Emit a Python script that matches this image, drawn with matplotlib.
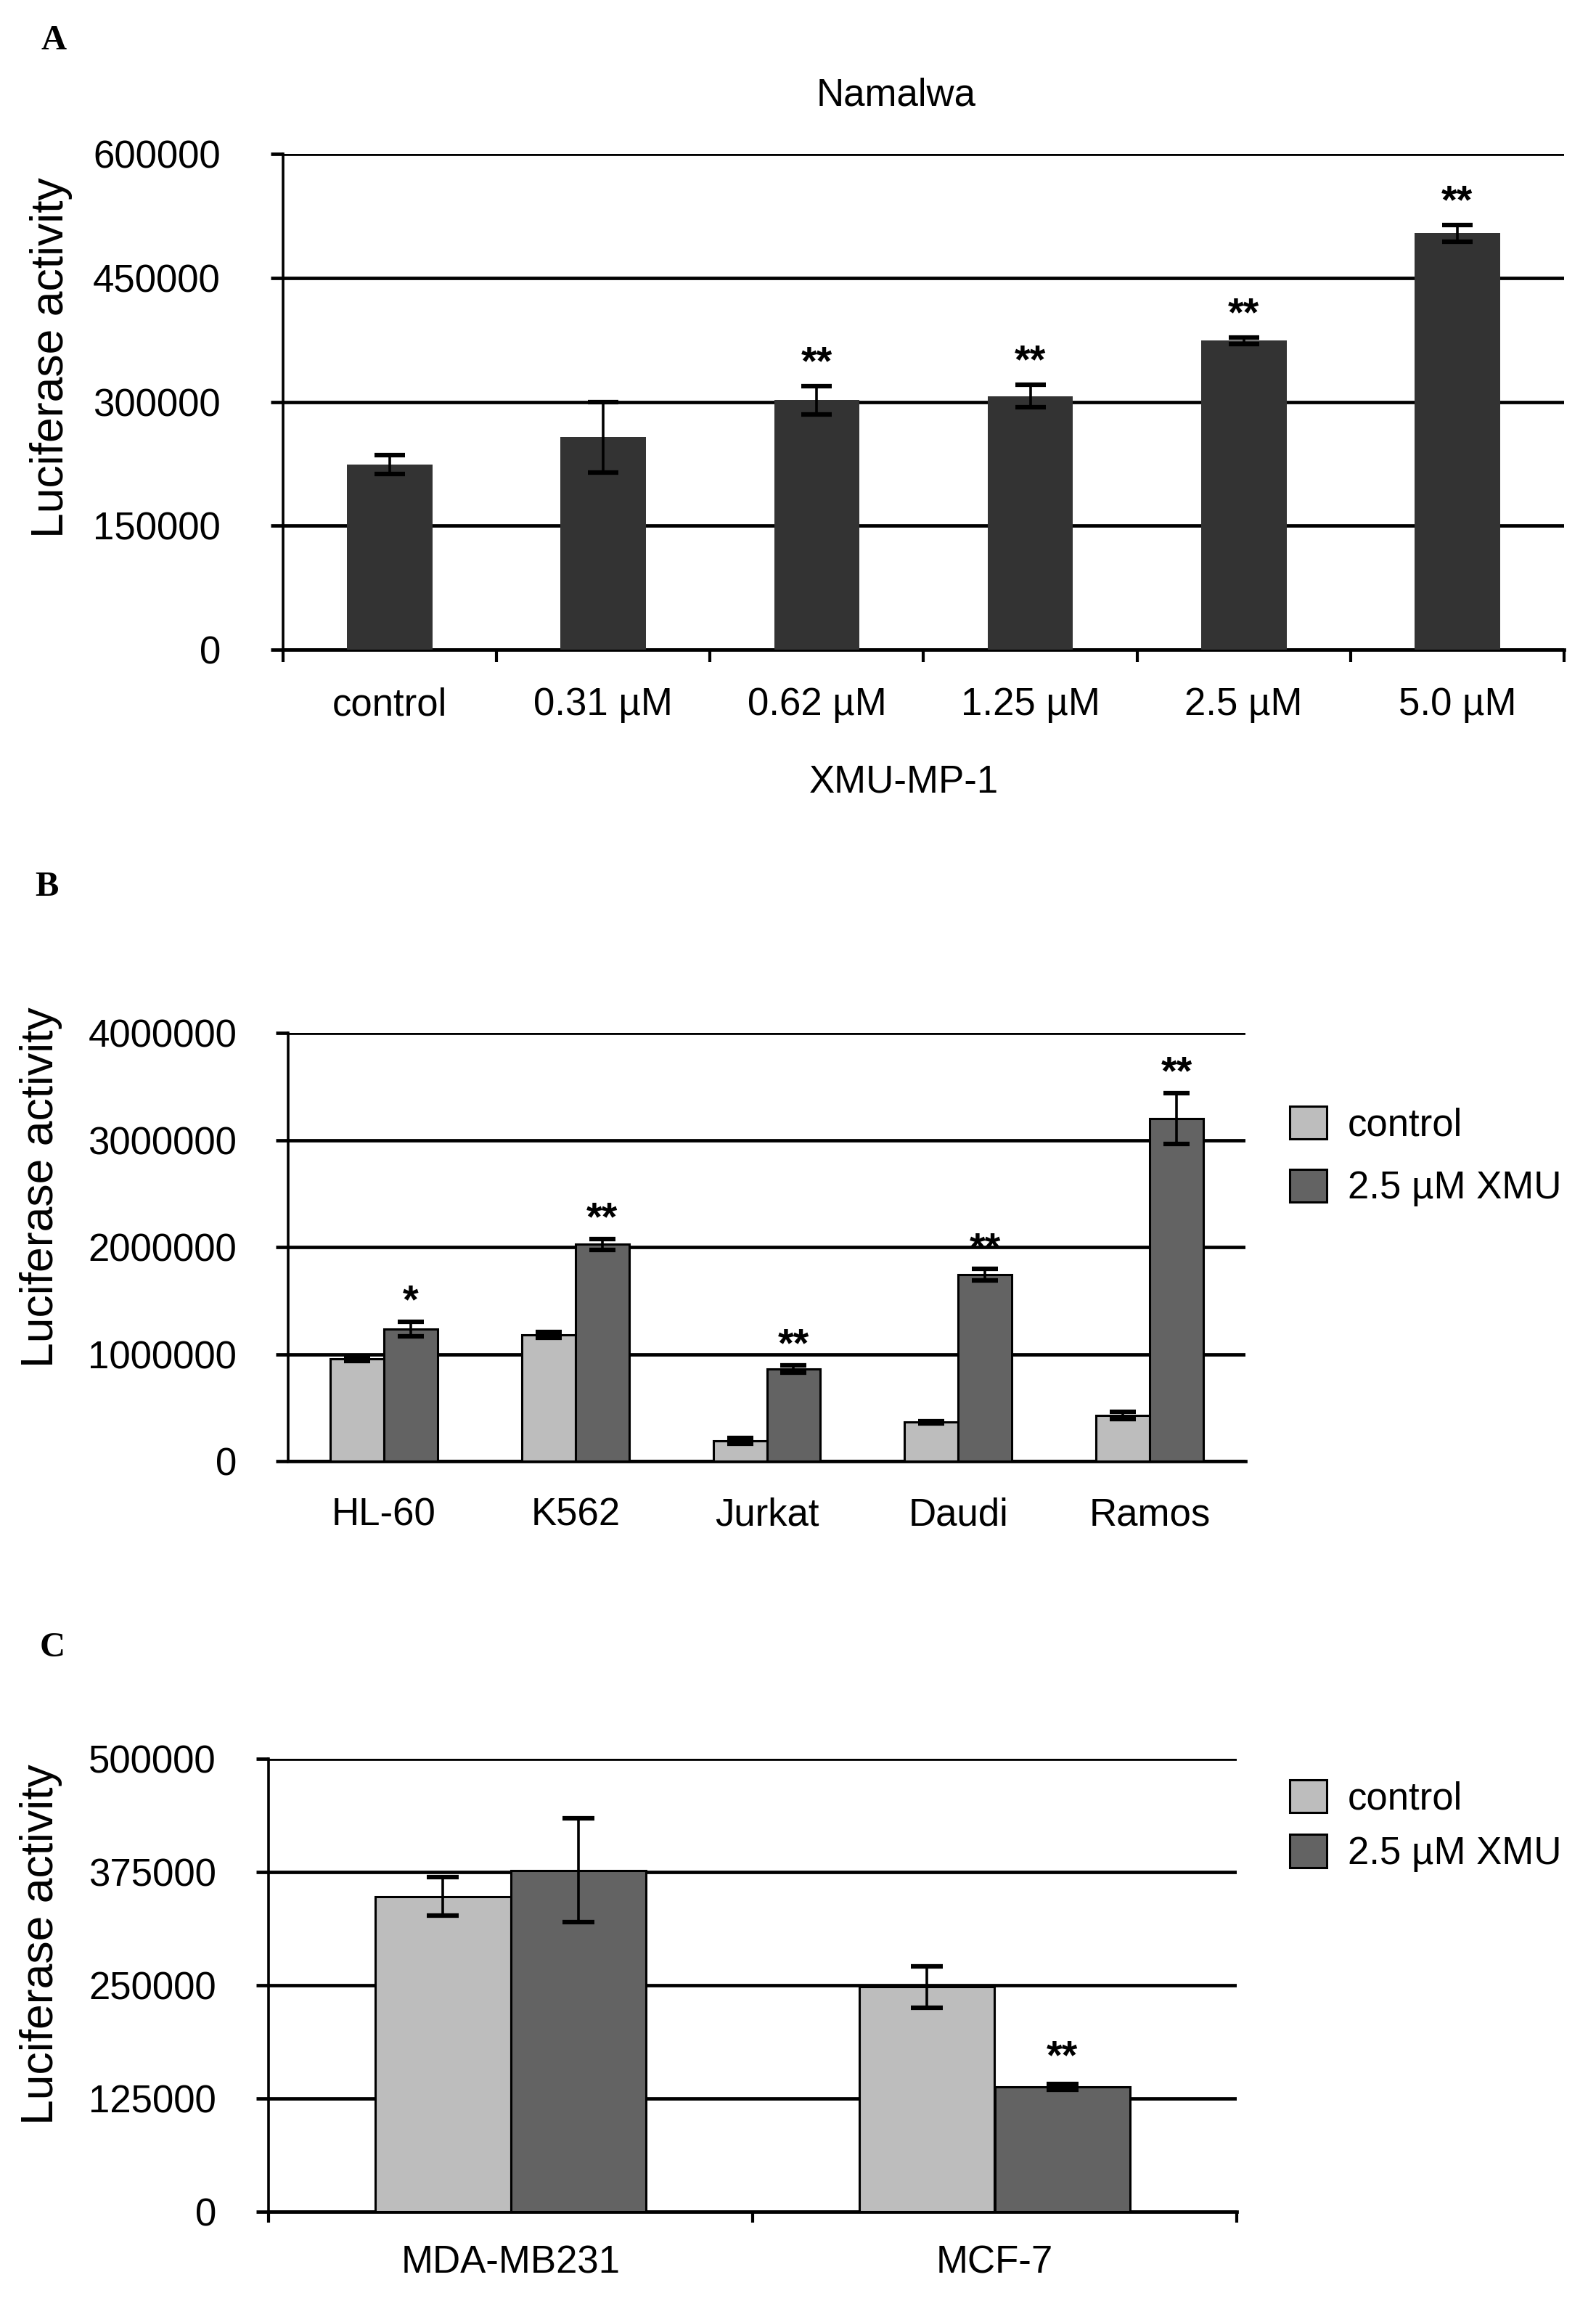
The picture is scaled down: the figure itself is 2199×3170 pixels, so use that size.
import numpy as np
import matplotlib
matplotlib.use("Agg")
import matplotlib.pyplot as plt
from matplotlib.ticker import StrMethodFormatter

plt.rcParams['font.family'] = ['Liberation Sans', 'DejaVu Sans']

# ---- data ----
# A: Namalwa, XMU-MP-1 dose series
a_labels = ['control', '0.31 µM', '0.62 µM', '1.25 µM', '2.5 µM', '5.0 µM']
a_mean = [224000, 257000, 302000, 307000, 374000, 504000]
a_err = [11000, 43000, 17000, 14000, 4000, 10000]
a_stars = ['', '', '**', '**', '**', '**']

# B: leukemia / lymphoma lines
b_labels = ['HL-60', 'K562', 'Jurkat', 'Daudi', 'Ramos']
b_ctrl = [955000, 1180000, 190000, 365000, 425000]
b_ctrl_err = [20000, 30000, 30000, 10000, 35000]
b_xmu = [1235000, 2025000, 860000, 1740000, 3200000]
b_xmu_err = [70000, 50000, 35000, 55000, 240000]
b_stars = ['*', '**', '**', '**', '**']

# C: breast cancer lines
c_labels = ['MDA-MB231', 'MCF-7']
c_ctrl = [348000, 248000]
c_ctrl_err = [21000, 23000]
c_xmu = [377000, 138000]
c_xmu_err = [57000, 3000]
c_stars = ['', '**']

legend_labels = ['control', '2.5 µM XMU']

W, H = 2199, 3170
fig = plt.figure(figsize=(W / 100, H / 100), dpi=100)

dark = '#333333'
light = '#bdbdbd'
mid = '#636363'
FS = 38


def rect(l, t, r, b):
    return [l / W, 1 - b / H, (r - l) / W, (b - t) / H]


def style(ax, ymax, step, ypad):
    ax.set_ylim(0, ymax)
    ax.set_yticks(np.arange(0, ymax + 1, step))
    ax.yaxis.set_major_formatter(StrMethodFormatter('{x:.0f}'))
    ax.yaxis.grid(True, color='black', linewidth=3.4)
    ax.set_axisbelow(True)
    for s in ['top', 'right']:
        ax.spines[s].set_visible(False)
    ax.spines['left'].set_linewidth(2.6)
    ax.spines['bottom'].set_linewidth(3.4)
    ax.tick_params(axis='y', direction='out', length=12, width=3.4,
                   labelsize=FS, pad=ypad)


def stars(ax, x, top, marks, dy):
    for xi, ti, m in zip(x, top, marks):
        if m:
            ax.annotate(m, (xi, ti), xytext=(0, dy), textcoords='offset points',
                        ha='center', va='center', fontsize=40, fontweight='bold')


ekw = dict(fmt='none', ecolor='black', elinewidth=2.6, capthick=4.5, zorder=4)

# ---------------- A ----------------
axA = fig.add_axes(rect(390, 212, 2155, 895))
xa = np.arange(len(a_labels))
axA.bar(xa, a_mean, width=0.4, color=dark, zorder=3)
axA.errorbar(xa, a_mean, yerr=a_err, capsize=15, **ekw)
style(axA, 600000, 150000, 50)
axA.set_xlim(-0.5, len(a_labels) - 0.5)
axA.set_xticks(np.arange(-0.5, len(a_labels)), [''] * (len(a_labels) + 1))
axA.set_xticks(xa, a_labels, minor=True)
axA.tick_params(axis='x', which='major', direction='out', length=12, width=3)
axA.tick_params(axis='x', which='minor', length=0, labelsize=FS, pad=37)
stars(axA, xa, np.array(a_mean) + np.array(a_err), a_stars, 22)

fig.text(1235 / W, 1 - 132 / H, 'Namalwa', ha='center', va='center', fontsize=FS)
fig.text(1245 / W, 1 - 1078 / H, 'XMU-MP-1', ha='center', va='center', fontsize=FS)


def grouped(ax, labels, ctrl, ctrl_err, xmu, xmu_err, marks, cap, dy):
    x = np.arange(len(labels))
    w = 0.28
    b1 = ax.bar(x - w / 2, ctrl, width=w, color=light, edgecolor='black',
                linewidth=2.2, zorder=3, label=legend_labels[0])
    b2 = ax.bar(x + w / 2, xmu, width=w, color=mid, edgecolor='black',
                linewidth=2.2, zorder=3, label=legend_labels[1])
    ax.errorbar(x - w / 2, ctrl, yerr=ctrl_err, capsize=cap, **ekw)
    ax.errorbar(x + w / 2, xmu, yerr=xmu_err, capsize=cap, **ekw)
    ax.set_xlim(-0.5, len(labels) - 0.5)
    stars(ax, x + w / 2, np.array(xmu) + np.array(xmu_err), marks, dy)
    return x, b1, b2


# ---------------- B ----------------
axB = fig.add_axes(rect(397, 1423, 1716, 2013))
xb, b1, b2 = grouped(axB, b_labels, b_ctrl, b_ctrl_err, b_xmu, b_xmu_err,
                     b_stars, 13, 19)
style(axB, 4000000, 1000000, 39)
axB.set_xticks(xb, b_labels)
axB.tick_params(axis='x', length=0, labelsize=FS, pad=36)
axB.legend(handles=[b1, b2], loc='upper left',
           bbox_to_anchor=(1777 / W, 1 - 1524 / H), bbox_transform=fig.transFigure,
           frameon=False, fontsize=FS, handlelength=0.96, handleheight=0.94,
           handletextpad=0.55, labelspacing=0.66, borderpad=0, borderaxespad=0)

# ---------------- C ----------------
axC = fig.add_axes(rect(370, 2423, 1704, 3047))
xc, c1, c2 = grouped(axC, c_labels, c_ctrl, c_ctrl_err, c_xmu, c_xmu_err,
                     c_stars, 16, 26)
style(axC, 500000, 125000, 40)
axC.set_xticks(np.arange(-0.5, len(c_labels)), [''] * (len(c_labels) + 1))
axC.set_xticks(xc, c_labels, minor=True)
axC.tick_params(axis='x', which='major', direction='out', length=11, width=3)
axC.tick_params(axis='x', which='minor', length=0, labelsize=FS, pad=33)
axC.legend(handles=[c1, c2], loc='upper left',
           bbox_to_anchor=(1777 / W, 1 - 2452 / H), bbox_transform=fig.transFigure,
           frameon=False, fontsize=FS, handlelength=0.96, handleheight=0.94,
           handletextpad=0.55, labelspacing=0.45, borderpad=0, borderaxespad=0)

# axis titles and panel letters
for x, y in [(71, 493), (57, 1636), (57, 2679)]:
    fig.text(x / W, 1 - y / H, 'Luciferase activity', rotation=90,
             ha='center', va='center', fontsize=45)
for x, y, s in [(74, 56, 'A'), (64, 1222, 'B'), (72, 2270, 'C')]:
    fig.text(x / W, 1 - y / H, s, ha='center', va='center', fontsize=35,
             fontweight='bold', family=['Liberation Serif', 'DejaVu Serif'])

fig.savefig('out.png', dpi=100)
